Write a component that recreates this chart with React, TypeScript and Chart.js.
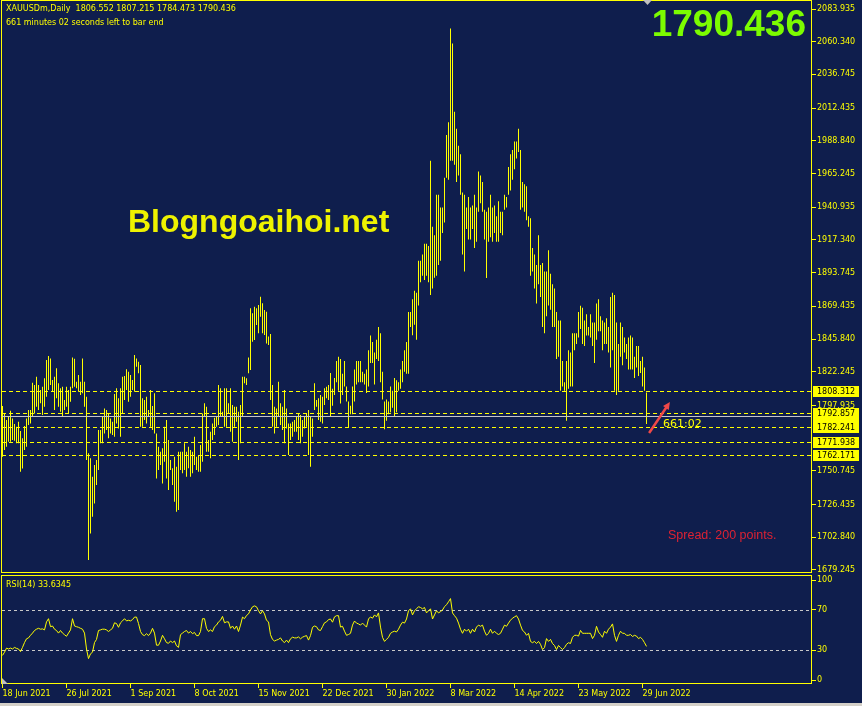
import React, { useEffect, useRef } from 'react';
import { Chart, registerables } from 'chart.js';

Chart.register(...registerables);

// ---------- data ----------
const highs: number[] = [
  1797.5, 1792.2, 1787.4, 1789.8, 1794.2, 1788.6, 1784.5, 1782.6, 1786.2, 1779.5,
  1774.2, 1783.1, 1788.6, 1794.6, 1794.6, 1814.4, 1812.7, 1818.7, 1812.7, 1809.1,
  1811.5, 1817.5, 1830.7, 1833.6, 1831.9, 1816.3, 1818.7, 1824.7, 1813.9, 1810.3,
  1811.5, 1801.9, 1811.5, 1809.1, 1811.5, 1832.6, 1831.6, 1815.1, 1819.9, 1815.1,
  1831.9, 1815.1, 1804.3, 1763.4, 1759.8, 1746.5, 1754.9, 1758.6, 1780.2, 1780.2,
  1789.8, 1795.8, 1794.6, 1792.2, 1788.6, 1786.2, 1806.2, 1810.3, 1803.1, 1810.3,
  1818.7, 1819.2, 1824.0, 1822.3, 1819.9, 1816.3, 1834.3, 1831.9, 1829.5, 1827.1,
  1803.1, 1801.9, 1804.3, 1794.6, 1809.1, 1797.5, 1806.7, 1777.8, 1768.2, 1764.6,
  1767.0, 1782.6, 1787.4, 1773.0, 1758.6, 1752.6, 1761.0, 1753.8, 1764.6, 1764.6,
  1764.6, 1770.6, 1764.6, 1768.2, 1765.8, 1764.6, 1775.4, 1761.0, 1762.2, 1769.4,
  1792.2, 1799.5, 1797.0, 1773.0, 1779.0, 1785.0, 1789.1, 1789.8, 1812.7, 1810.3,
  1793.4, 1810.3, 1810.3, 1799.5, 1810.3, 1798.2, 1797.0, 1797.0, 1793.4, 1798.2,
  1818.7, 1818.7, 1817.5, 1832.6, 1868.0, 1864.4, 1869.2, 1868.0, 1870.4, 1876.4,
  1871.6, 1866.8, 1865.6, 1847.6, 1849.5, 1812.7, 1797.0, 1795.8, 1815.1, 1799.5,
  1797.0, 1809.1, 1795.8, 1785.0, 1785.0, 1786.2, 1787.4, 1789.8, 1792.2, 1791.0,
  1787.4, 1789.8, 1792.2, 1794.6, 1789.8, 1788.6, 1813.9, 1801.9, 1803.1, 1805.5,
  1804.3, 1810.3, 1811.5, 1812.7,
  1821.4, 1810.0, 1817.7, 1830.0, 1833.1, 1831.5, 1820.8, 1830.0, 1811.6, 1800.8,
  1797.7, 1811.6, 1823.9, 1830.0, 1830.0, 1830.0, 1822.3, 1820.8, 1823.9, 1837.7,
  1848.4, 1843.8, 1836.2, 1845.4, 1854.6, 1850.0, 1822.3, 1800.8, 1802.3, 1800.8,
  1811.6, 1808.5, 1817.7, 1816.2, 1814.6, 1823.9, 1830.0, 1837.7, 1843.8, 1865.4,
  1865.4, 1874.6, 1880.7, 1879.2, 1902.3, 1902.3, 1906.9, 1914.6, 1914.6, 1913.0,
  1974.5, 1926.9, 1920.7, 1949.9, 1949.9, 1940.7, 1940.7, 1962.2, 1993.0, 2002.2,
  2069.9, 2059.1, 2009.9, 1997.6, 1985.3, 1979.1, 1951.5, 1949.9, 1940.7, 1948.4,
  1940.7, 1942.2, 1949.9, 1940.7, 1966.8, 1963.8, 1959.2, 1939.2, 1937.6, 1940.7,
  1949.9, 1940.7, 1942.2, 1934.5, 1945.3, 1937.6, 1937.6, 1949.9, 1948.4, 1969.9,
  1979.1, 1982.2, 1988.4, 1988.4, 1997.6, 1982.2, 1959.2, 1957.6, 1956.1, 1934.5,
  1933.0, 1911.5, 1906.9, 1899.2, 1920.7, 1899.2, 1900.7, 1894.6, 1894.6, 1909.9,
  1893.0, 1885.3, 1882.3, 1865.4, 1859.2, 1859.2, 1830.0, 1814.6, 1830.0, 1837.7,
  1836.2, 1850.0, 1850.0, 1850.0, 1865.4, 1869.9, 1868.4, 1859.2, 1863.8, 1854.6,
  1863.8, 1857.7, 1857.7, 1871.5, 1874.6, 1862.3, 1859.2, 1857.7, 1860.8, 1854.6,
  1876.1, 1879.2, 1877.7, 1857.7, 1842.3, 1857.7, 1854.6, 1846.9, 1842.3, 1846.9,
  1848.4, 1846.9, 1833.1, 1840.8, 1840.8, 1830.0, 1833.1, 1825.4, 1807.2,
];

const lows: number[] = [
  1761.0, 1765.8, 1768.2, 1771.8, 1771.8, 1773.0, 1772.5, 1770.6, 1770.6, 1750.2,
  1752.5, 1765.8, 1768.2, 1783.8, 1785.0, 1789.8, 1792.2, 1797.0, 1794.6, 1799.5,
  1791.0, 1797.0, 1804.3, 1809.1, 1812.7, 1807.9, 1794.6, 1803.1, 1797.0, 1793.4,
  1789.8, 1794.6, 1797.0, 1792.2, 1800.6, 1810.3, 1811.5, 1810.3, 1807.9, 1805.5,
  1806.7, 1797.0, 1758.6, 1686.4, 1705.6, 1717.7, 1727.3, 1740.5, 1751.4, 1770.6,
  1770.6, 1777.8, 1780.2, 1774.2, 1777.8, 1776.6, 1775.4, 1785.0, 1781.4, 1775.4,
  1792.2, 1801.9, 1809.1, 1800.6, 1804.3, 1809.1, 1807.9, 1825.9, 1821.1, 1782.6,
  1782.6, 1787.4, 1785.0, 1789.8, 1782.6, 1780.2, 1777.8, 1745.3, 1751.4, 1755.0,
  1741.7, 1757.4, 1745.3, 1736.9, 1751.4, 1740.5, 1728.5, 1721.3, 1722.5, 1751.4,
  1749.0, 1751.4, 1746.5, 1752.6, 1746.5, 1749.0, 1754.9, 1751.4, 1750.2, 1750.2,
  1757.4, 1789.8, 1764.6, 1764.6, 1759.8, 1773.0, 1776.6, 1782.6, 1783.8, 1789.8,
  1789.8, 1782.6, 1782.6, 1792.2, 1779.0, 1771.8, 1782.6, 1786.2, 1758.6, 1770.6,
  1789.8, 1813.9, 1812.7, 1821.1, 1823.5, 1843.9, 1845.2, 1856.0, 1850.0, 1862.0,
  1850.0, 1848.7, 1842.7, 1841.5, 1801.9, 1782.6, 1777.8, 1782.6, 1789.8, 1783.8,
  1780.2, 1770.6, 1781.4, 1762.2, 1773.0, 1775.4, 1779.0, 1779.0, 1773.0, 1770.6,
  1775.4, 1781.4, 1782.6, 1762.2, 1753.8, 1775.4, 1794.6, 1797.0, 1787.4, 1786.2,
  1785.0, 1798.2, 1803.1, 1801.9,
  1790.0, 1797.7, 1805.4, 1814.6, 1808.5, 1799.3, 1805.4, 1811.6, 1800.8, 1782.3,
  1791.6, 1791.6, 1800.8, 1813.1, 1814.6, 1814.6, 1814.6, 1813.1, 1806.9, 1811.6,
  1828.5, 1828.5, 1813.1, 1831.5, 1830.0, 1814.6, 1802.3, 1780.8, 1786.9, 1791.6,
  1793.1, 1796.2, 1790.0, 1793.1, 1808.5, 1810.0, 1814.6, 1822.3, 1820.8, 1820.8,
  1854.6, 1848.5, 1856.1, 1845.4, 1870.0, 1886.9, 1891.5, 1888.4, 1891.5, 1886.9,
  1877.7, 1882.3, 1890.0, 1891.5, 1899.2, 1902.3, 1922.3, 1929.9, 1962.2, 1960.7,
  1974.5, 1974.5, 1971.5, 1959.2, 1963.8, 1949.9, 1906.9, 1894.6, 1925.3, 1917.6,
  1917.6, 1925.3, 1911.5, 1916.1, 1937.6, 1943.8, 1937.6, 1917.6, 1889.9, 1916.1,
  1919.2, 1916.1, 1922.3, 1916.1, 1916.1, 1922.3, 1920.7, 1939.2, 1940.7, 1949.9,
  1953.0, 1960.7, 1968.4, 1976.1, 1980.7, 1939.2, 1940.7, 1937.6, 1931.5, 1926.9,
  1891.5, 1894.6, 1882.3, 1871.5, 1885.3, 1876.1, 1854.6, 1850.0, 1862.3, 1870.0,
  1866.9, 1854.6, 1854.6, 1831.5, 1833.1, 1808.5, 1811.6, 1808.5, 1786.9, 1810.0,
  1811.6, 1811.6, 1837.7, 1842.3, 1846.9, 1853.1, 1842.3, 1840.8, 1848.4, 1848.4,
  1846.9, 1840.8, 1828.5, 1845.4, 1851.5, 1851.5, 1837.7, 1842.3, 1842.3, 1836.2,
  1825.4, 1837.7, 1808.5, 1805.4, 1808.5, 1833.1, 1826.9, 1836.2, 1831.5, 1823.9,
  1823.9, 1823.9, 1817.7, 1825.4, 1819.2, 1821.4, 1811.6, 1808.5, 1784.5,
];

const rsiValues: number[] = [
  24.6, 27.8, 31.9, 31.0, 31.9, 31.0, 32.6, 31.6, 31.0, 28.4,
  32.6, 37.4, 41.2, 42.1, 44.7, 46.9, 49.5, 50.8, 51.7, 50.8,
  51.1, 50.1, 58.1, 61.3, 53.3, 54.0, 50.8, 49.5, 46.9, 49.5,
  46.9, 45.3, 43.7, 46.9, 50.1, 61.3, 54.0, 53.3, 52.7, 51.7,
  50.8, 46.9, 31.0, 21.4, 26.2, 27.8, 37.4, 40.6, 49.5, 50.1,
  50.8, 50.8, 50.1, 48.5, 50.1, 51.7, 57.2, 56.5, 52.7, 57.2,
  59.1, 61.3, 59.1, 59.7, 59.1, 60.4, 62.9, 62.9, 56.5, 48.5,
  45.3, 44.4, 46.3, 44.4, 46.9, 51.7, 46.9, 34.8, 34.8, 39.0,
  44.7, 41.2, 37.4, 36.7, 39.0, 37.4, 39.0, 34.2, 32.6, 45.3,
  46.9, 48.5, 49.5, 46.9, 48.5, 46.3, 47.6, 44.4, 44.4, 48.5,
  61.3, 61.3, 51.7, 48.5, 50.1, 48.5, 53.3, 54.9, 58.1, 59.7,
  63.6, 57.2, 58.1, 58.1, 51.7, 54.0, 50.8, 54.0, 48.5, 54.9,
  62.9, 61.3, 64.5, 66.1, 70.0, 73.2, 74.1, 73.2, 69.3, 66.1,
  69.3, 66.1, 59.7, 58.1, 45.3, 40.6, 39.0, 39.9, 40.6, 42.1,
  39.0, 37.4, 39.9, 37.4, 41.2, 42.8, 42.1, 42.1, 43.1, 41.2,
  42.8, 43.7, 44.4, 39.9, 44.4, 52.7, 54.0, 53.3, 50.1, 49.5,
  53.3, 57.2, 58.1, 60.4,
  61.0, 57.8, 63.1, 64.3, 64.3, 52.9, 53.7, 48.8, 44.7, 45.5,
  46.7, 54.9, 59.0, 56.9, 56.1, 54.9, 56.9, 54.9, 52.9, 61.0,
  63.1, 61.8, 65.1, 63.1, 67.1, 52.9, 42.7, 38.6, 40.6, 42.7,
  46.7, 48.0, 48.8, 48.0, 50.8, 54.9, 57.8, 56.9, 61.0, 69.2,
  71.2, 65.1, 69.2, 71.2, 73.3, 72.5, 71.2, 72.5, 67.1, 69.2,
  71.2, 61.0, 65.1, 69.2, 67.1, 68.4, 70.0, 73.3, 75.3, 78.2,
  81.4, 67.1, 64.3, 61.8, 56.9, 50.8, 46.7, 50.8, 48.8, 50.8,
  46.7, 50.8, 48.0, 52.9, 54.9, 53.7, 54.9, 48.8, 44.7, 46.7,
  50.8, 46.7, 48.8, 46.7, 45.5, 46.7, 50.8, 54.9, 53.7, 56.9,
  59.8, 61.8, 63.1, 64.3, 61.0, 54.9, 49.6, 48.0, 44.7, 46.7,
  38.6, 37.3, 38.6, 36.5, 38.6, 35.7, 30.4, 32.4, 41.4, 38.6,
  40.6, 36.5, 34.5, 30.4, 34.5, 32.4, 30.4, 32.4, 35.7, 37.3,
  36.5, 42.7, 44.7, 44.7, 43.9, 49.6, 46.7, 46.7, 46.7, 46.7,
  46.7, 41.4, 44.7, 53.7, 48.0, 45.5, 42.7, 48.8, 46.7, 50.8,
  52.9, 56.1, 44.7, 38.6, 44.7, 48.8, 46.7, 46.7, 44.7, 44.7,
  45.5, 43.5, 44.7, 43.9, 41.4, 42.7, 40.6, 37.3, 33.6,
];

const priceTicks: number[] = [
  2083.935, 2060.34, 2036.745, 2012.435, 1988.84, 1965.245, 1940.935, 1917.34, 1893.745,
  1869.435, 1845.84, 1822.245, 1797.935, 1750.745, 1726.435, 1702.84, 1679.245,
];
const dateLabels: string[] = [
  '18 Jun 2021', '26 Jul 2021', '1 Sep 2021', '8 Oct 2021', '15 Nov 2021', '22 Dec 2021',
  '30 Jan 2022', '8 Mar 2022', '14 Apr 2022', '23 May 2022', '29 Jun 2022',
];
const dateTickIndex: number[] = [0, 32, 64, 96, 128, 160, 192, 224, 256, 288, 320];
const levelPrices: number[] = [1808.312, 1792.857, 1782.241, 1771.938, 1762.171];
const bidPrice = 1790.436;
const rsiLevels: number[] = [70, 30];
const rsiTicks: number[] = [0, 30, 70, 100];

const headerLine1 = 'XAUUSDm,Daily  1806.552 1807.215 1784.473 1790.436';
const headerLine2 = '661 minutes 02 seconds left to bar end';
const rsiTitle = 'RSI(14) 33.6345';
const spreadText = 'Spread: 200 points.';
const timerText = '661:02';
const watermark = 'Blogngoaihoi.net';
const bigPrice = '1790.436';

// annotation anchors (bar index, price)
const arrowFrom = { i: 323.3, p: 1778.1 };
const arrowTo = { i: 333.7, p: 1800.4 };
const timerAt = { i: 330.3, p: 1784.6 };

// ---------- style ----------
const NAVY = '#0f1e4d';
const YELLOW = '#ffff00';
const TXT = '#ffff00';
const SMALL = '8px "DejaVu Sans", Verdana, sans-serif';
const X_MIN = -0.25;
const X_MAX = 404.75;
const PRICE_MIN = 1677.08;
const PRICE_MAX = 2089.706;
const RSI_MIN = -4;
const RSI_MAX = 104;

const mainDecor = {
  id: 'mainDecor',
  beforeDatasetsDraw(chart: any) {
    const { ctx } = chart;
    ctx.save();
    ctx.font = 'bold 32px "Liberation Sans", Arial, sans-serif';
    ctx.fillStyle = '#eef200';
    ctx.textBaseline = 'alphabetic';
    ctx.textAlign = 'left';
    ctx.fillText(watermark, 128, 232);
    ctx.restore();
  },
  afterDatasetsDraw(chart: any) {
    const { ctx, chartArea: a, scales } = chart;
    const x = scales.x;
    const y = scales.y;
    ctx.save();
    ctx.beginPath();
    ctx.rect(a.left, a.top, a.right - a.left, a.bottom - a.top);
    ctx.clip();
    ctx.lineWidth = 1;
    ctx.strokeStyle = YELLOW;
    ctx.setLineDash([4, 3]);
    for (const lv of levelPrices) {
      const py = Math.round(y.getPixelForValue(lv)) + 0.5;
      ctx.beginPath();
      ctx.moveTo(a.left, py);
      ctx.lineTo(a.right, py);
      ctx.stroke();
    }
    ctx.setLineDash([]);
    ctx.strokeStyle = '#c8c8c8';
    const by = Math.round(y.getPixelForValue(bidPrice)) + 0.5;
    ctx.beginPath();
    ctx.moveTo(a.left, by);
    ctx.lineTo(a.right, by);
    ctx.stroke();

    // red arrow
    const x0 = x.getPixelForValue(arrowFrom.i);
    const y0 = y.getPixelForValue(arrowFrom.p);
    const x1 = x.getPixelForValue(arrowTo.i);
    const y1 = y.getPixelForValue(arrowTo.p);
    const ang = Math.atan2(y1 - y0, x1 - x0);
    const head = 8;
    ctx.strokeStyle = '#f04848';
    ctx.fillStyle = '#f04848';
    ctx.lineWidth = 2.5;
    ctx.beginPath();
    ctx.moveTo(x0, y0);
    ctx.lineTo(x1 - Math.cos(ang) * head * 0.7, y1 - Math.sin(ang) * head * 0.7);
    ctx.stroke();
    ctx.beginPath();
    ctx.moveTo(x1, y1);
    ctx.lineTo(x1 - head * Math.cos(ang - 0.45), y1 - head * Math.sin(ang - 0.45));
    ctx.lineTo(x1 - head * Math.cos(ang + 0.45), y1 - head * Math.sin(ang + 0.45));
    ctx.closePath();
    ctx.fill();

    // timer text
    ctx.font = '11px "DejaVu Sans", sans-serif';
    ctx.fillStyle = TXT;
    ctx.textBaseline = 'middle';
    ctx.textAlign = 'left';
    ctx.fillText(timerText, x.getPixelForValue(timerAt.i), y.getPixelForValue(timerAt.p));
    ctx.restore();

    // border
    ctx.save();
    ctx.strokeStyle = YELLOW;
    ctx.lineWidth = 1;
    ctx.strokeRect(a.left - 0.5, a.top - 0.5, a.right - a.left, a.bottom - a.top);

    // header texts
    ctx.font = SMALL;
    ctx.fillStyle = TXT;
    ctx.textBaseline = 'middle';
    ctx.textAlign = 'left';
    ctx.fillText(headerLine1, 6, 9);
    ctx.fillText(headerLine2, 6, 23);

    // big price
    ctx.font = 'bold 37px "Liberation Sans", Arial, sans-serif';
    ctx.fillStyle = '#7cfc00';
    ctx.textAlign = 'right';
    ctx.textBaseline = 'alphabetic';
    ctx.fillText(bigPrice, 806, 36);

    // spread
    ctx.font = '12.5px "Liberation Sans", Arial, sans-serif';
    ctx.fillStyle = '#dd2233';
    ctx.textAlign = 'left';
    ctx.textBaseline = 'middle';
    ctx.fillText(spreadText, 668, 536);

    // shift marker
    ctx.fillStyle = '#c0c0c0';
    ctx.beginPath();
    ctx.moveTo(643, 0);
    ctx.lineTo(652, 0);
    ctx.lineTo(647.5, 5);
    ctx.closePath();
    ctx.fill();
    ctx.restore();
  },
  afterDraw(chart: any) {
    const { ctx, chartArea: a, scales } = chart;
    const y = scales.y;
    ctx.save();
    ctx.font = SMALL;
    ctx.textBaseline = 'middle';
    ctx.textAlign = 'left';
    const boxes = [levelPrices[0], bidPrice, ...levelPrices.slice(1)];
    for (const v of boxes) {
      const py = Math.round(y.getPixelForValue(v));
      ctx.fillStyle = YELLOW;
      ctx.fillRect(a.right + 1, py - 5, 46, 11);
      ctx.fillStyle = '#000000';
      ctx.fillText(v.toFixed(3), a.right + 5, py + 0.5);
    }
    ctx.restore();
  },
};

const rsiDecor = {
  id: 'rsiDecor',
  beforeDatasetsDraw(chart: any) {
    const { ctx, chartArea: a, scales } = chart;
    const y = scales.y;
    ctx.save();
    ctx.strokeStyle = '#c8c8c8';
    ctx.lineWidth = 1;
    ctx.setLineDash([3, 3]);
    for (const lv of rsiLevels) {
      const py = Math.round(y.getPixelForValue(lv)) + 0.5;
      ctx.beginPath();
      ctx.moveTo(a.left, py);
      ctx.lineTo(a.right, py);
      ctx.stroke();
    }
    ctx.restore();
  },
  afterDatasetsDraw(chart: any) {
    const { ctx, chartArea: a } = chart;
    ctx.save();
    ctx.strokeStyle = YELLOW;
    ctx.lineWidth = 1;
    ctx.strokeRect(a.left - 0.5, a.top - 0.5, a.right - a.left, a.bottom - a.top);
    ctx.font = SMALL;
    ctx.fillStyle = TXT;
    ctx.textBaseline = 'middle';
    ctx.textAlign = 'left';
    ctx.fillText(rsiTitle, 6, a.top + 9);
    ctx.fillStyle = '#c0c0c0';
    ctx.beginPath();
    ctx.moveTo(a.left, a.bottom);
    ctx.lineTo(a.left + 6, a.bottom);
    ctx.lineTo(a.left, a.bottom - 6);
    ctx.closePath();
    ctx.fill();
    ctx.restore();
  },
};

function MainChart() {
  const ref = useRef<HTMLCanvasElement>(null);
  useEffect(() => {
    const bars = highs.map((h, i) => ({ x: i, y: [lows[i], h] }));
    const chart = new Chart(ref.current as HTMLCanvasElement, {
      type: 'bar',
      data: {
        datasets: [
          {
            data: bars as any,
            backgroundColor: YELLOW,
            borderWidth: 0,
            barThickness: 1,
            grouped: false,
            inflateAmount: 0,
          } as any,
        ],
      },
      options: {
        responsive: false,
        animation: false,
        devicePixelRatio: 1,
        events: [],
        layout: { padding: { left: 2, top: 1, right: 0, bottom: 3 } },
        plugins: { legend: { display: false }, tooltip: { enabled: false } },
        scales: {
          x: { type: 'linear', min: X_MIN, max: X_MAX, display: false, offset: false },
          y: {
            type: 'linear',
            position: 'right',
            min: PRICE_MIN,
            max: PRICE_MAX,
            afterBuildTicks: (s: any) => {
              s.ticks = priceTicks.map((v) => ({ value: v }));
            },
            afterFit: (s: any) => {
              s.width = 50;
              s.paddingTop = 0;
              s.paddingBottom = 0;
            },
            grid: { drawOnChartArea: false, drawTicks: true, tickLength: 4, color: YELLOW },
            border: { display: false },
            ticks: {
              color: TXT,
              font: { family: '"DejaVu Sans", Verdana, sans-serif', size: 8 },
              padding: 1,
              autoSkip: false,
              callback: (v: any) => Number(v).toFixed(3),
            },
          },
        },
      } as any,
      plugins: [mainDecor],
    });
    return () => chart.destroy();
  }, []);
  return (
    <canvas
      ref={ref}
      width={862}
      height={576}
      style={{ position: 'absolute', left: 0, top: 0, width: 862, height: 576 }}
    />
  );
}

function RsiChart() {
  const ref = useRef<HTMLCanvasElement>(null);
  useEffect(() => {
    const pts = rsiValues.map((v, i) => ({ x: i, y: v }));
    const chart = new Chart(ref.current as HTMLCanvasElement, {
      type: 'line',
      data: {
        datasets: [
          {
            data: pts as any,
            borderColor: YELLOW,
            borderWidth: 1,
            pointRadius: 0,
            tension: 0,
            fill: false,
          },
        ],
      },
      options: {
        responsive: false,
        animation: false,
        devicePixelRatio: 1,
        events: [],
        layout: { padding: { left: 2, top: 2, right: 0, bottom: 0 } },
        plugins: { legend: { display: false }, tooltip: { enabled: false } },
        scales: {
          x: {
            type: 'linear',
            position: 'bottom',
            min: X_MIN,
            max: X_MAX,
            offset: false,
            afterBuildTicks: (s: any) => {
              s.ticks = dateTickIndex.map((v) => ({ value: v }));
            },
            afterFit: (s: any) => {
              s.height = 22;
              s.paddingLeft = 0;
              s.paddingRight = 0;
            },
            grid: { drawOnChartArea: false, drawTicks: true, tickLength: 4, color: YELLOW },
            border: { display: false },
            ticks: {
              color: TXT,
              font: { family: '"DejaVu Sans", Verdana, sans-serif', size: 8 },
              padding: 1,
              autoSkip: false,
              maxRotation: 0,
              minRotation: 0,
              align: 'start',
              callback: (_v: any, i: number) => dateLabels[i],
            },
          },
          y: {
            type: 'linear',
            position: 'right',
            min: RSI_MIN,
            max: RSI_MAX,
            afterBuildTicks: (s: any) => {
              s.ticks = rsiTicks.map((v) => ({ value: v }));
            },
            afterFit: (s: any) => {
              s.width = 50;
              s.paddingTop = 0;
              s.paddingBottom = 0;
            },
            grid: { drawOnChartArea: false, drawTicks: true, tickLength: 4, color: YELLOW },
            border: { display: false },
            ticks: {
              color: TXT,
              font: { family: '"DejaVu Sans", Verdana, sans-serif', size: 8 },
              padding: 1,
              autoSkip: false,
              callback: (v: any) => String(v),
            },
          },
        },
      } as any,
      plugins: [rsiDecor],
    });
    return () => chart.destroy();
  }, []);
  return (
    <canvas
      ref={ref}
      width={862}
      height={132}
      style={{ position: 'absolute', left: 0, top: 574, width: 862, height: 132 }}
    />
  );
}

export default function App() {
  useEffect(() => {
    document.body.style.margin = '0';
    document.body.style.background = NAVY;
  }, []);
  return (
    <div
      style={{
        position: 'absolute',
        left: 0,
        top: 0,
        width: 862,
        height: 706,
        background: NAVY,
        overflow: 'hidden',
      }}
    >
      <MainChart />
      <RsiChart />
      <div
        style={{ position: 'absolute', left: 0, top: 703, width: 862, height: 3, background: '#d4d0c8' }}
      />
    </div>
  );
}
